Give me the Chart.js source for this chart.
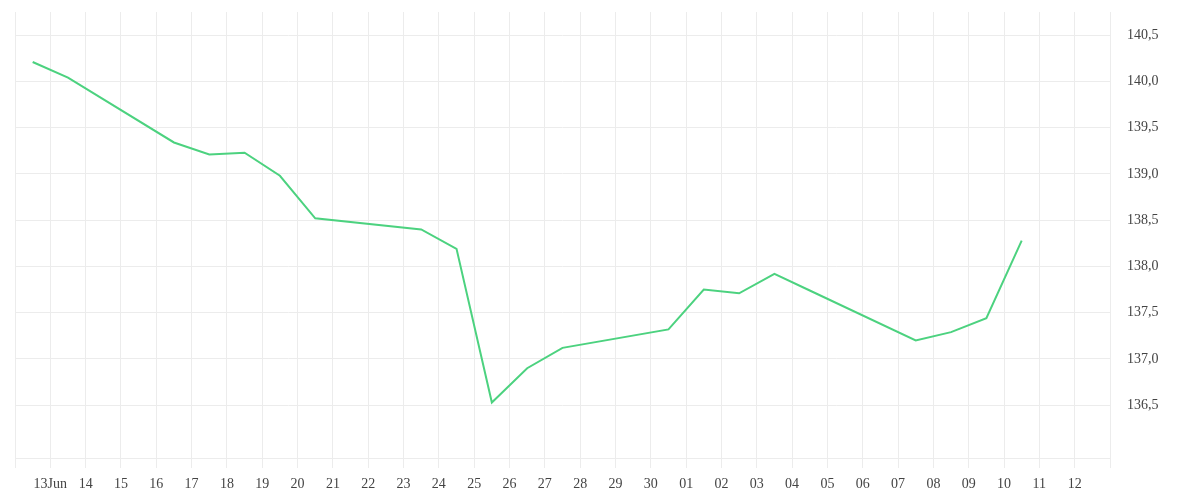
<!DOCTYPE html>
<html>
<head>
<meta charset="utf-8">
<script src="https://cdn.jsdelivr.net/npm/chart.js@4.4.0/dist/chart.umd.min.js"></script>
<style>
	html, body { margin: 0; padding: 0; background: #fff; }
</style>
</head>
<body>
<canvas id="lineChart" width="1200" height="500"></canvas>
<script>
var START_DATE = '2025-06-12T00:00:00Z';

var dates = [
	'2025-06-12T12:00:00Z', '2025-06-13T12:00:00Z', '2025-06-16T12:00:00Z', '2025-06-17T12:00:00Z',
	'2025-06-18T12:00:00Z', '2025-06-19T12:00:00Z', '2025-06-20T12:00:00Z', '2025-06-23T12:00:00Z',
	'2025-06-24T12:00:00Z', '2025-06-25T12:00:00Z', '2025-06-26T12:00:00Z', '2025-06-27T12:00:00Z',
	'2025-06-30T12:00:00Z', '2025-07-01T12:00:00Z', '2025-07-02T12:00:00Z', '2025-07-03T12:00:00Z',
	'2025-07-04T12:00:00Z', '2025-07-07T12:00:00Z', '2025-07-08T12:00:00Z', '2025-07-09T12:00:00Z',
	'2025-07-10T12:00:00Z'
];
var prices = [
	140.21, 140.04, 139.34, 139.21,
	139.23, 138.98, 138.52, 138.40,
	138.19, 136.53, 136.90, 137.12,
	137.32, 137.75, 137.71, 137.92,
	137.74, 137.20, 137.29, 137.44,
	138.28
];

// one tick per day, from 12 Jun to 13 Jul
var xTickLabels = ['', '13Jun', '14', '15', '16', '17', '18', '19', '20', '21', '22', '23', '24', '25', '26',
	'27', '28', '29', '30', '01', '02', '03', '04', '05', '06', '07', '08', '09', '10', '11', '12', ''];
var yTicks = [136.5, 137.0, 137.5, 138.0, 138.5, 139.0, 139.5, 140.0, 140.5];

var COLOR_LINE = '#4cd27f';
var COLOR_GRID = '#ececec';
var COLOR_TEXT = '#444444';
var FONT_FAMILY = '"Liberation Serif", "Times New Roman", serif';

var dayOf = function(s) {
	return (Date.parse(s) - Date.parse(START_DATE)) / 86400000;
};

var points = dates.map(function(d, i) {
	return { x: dayOf(d), y: prices[i] };
});

Chart.defaults.font.family = FONT_FAMILY;
Chart.defaults.font.size = 14;
Chart.defaults.color = COLOR_TEXT;

var ctx = document.getElementById('lineChart');
var lineChart = new Chart(ctx, {
	type: 'line',
	data: {
		datasets: [{
			label: 'Price',
			data: points,
			borderColor: COLOR_LINE,
			borderWidth: 2,
			pointRadius: 0,
			pointHoverRadius: 0,
			tension: 0,
			fill: false
		}]
	},
	options: {
		responsive: false,
		animation: false,
		layout: { padding: { left: 15, top: 12, right: 0, bottom: 0 } },
		plugins: {
			legend: { display: false },
			tooltip: { enabled: false }
		},
		scales: {
			x: {
				type: 'linear',
				min: 0,
				max: xTickLabels.length - 1,
				afterBuildTicks: function(scale) {
					scale.ticks = xTickLabels.map(function(l, i) { return { value: i }; });
				},
				afterFit: function(scale) { scale.height = 42; },
				grid: { color: COLOR_GRID, tickLength: 10, drawTicks: true },
				border: { color: COLOR_GRID },
				ticks: {
					autoSkip: false,
					maxRotation: 0,
					padding: 8,
					callback: function(value, index) { return xTickLabels[index]; }
				}
			},
			y: {
				position: 'right',
				min: 135.93,
				max: 140.75,
				afterBuildTicks: function(scale) {
					scale.ticks = yTicks.map(function(v) { return { value: v }; });
				},
				afterFit: function(scale) {
					scale.width = 90;
					scale.paddingTop = 0;
					scale.paddingBottom = 0;
				},
				grid: { color: COLOR_GRID, drawTicks: false },
				border: { color: COLOR_GRID },
				ticks: {
					padding: 17,
					callback: function(value) { return value.toFixed(1).replace('.', ','); }
				}
			}
		}
	}
});
</script>
</body>
</html>
